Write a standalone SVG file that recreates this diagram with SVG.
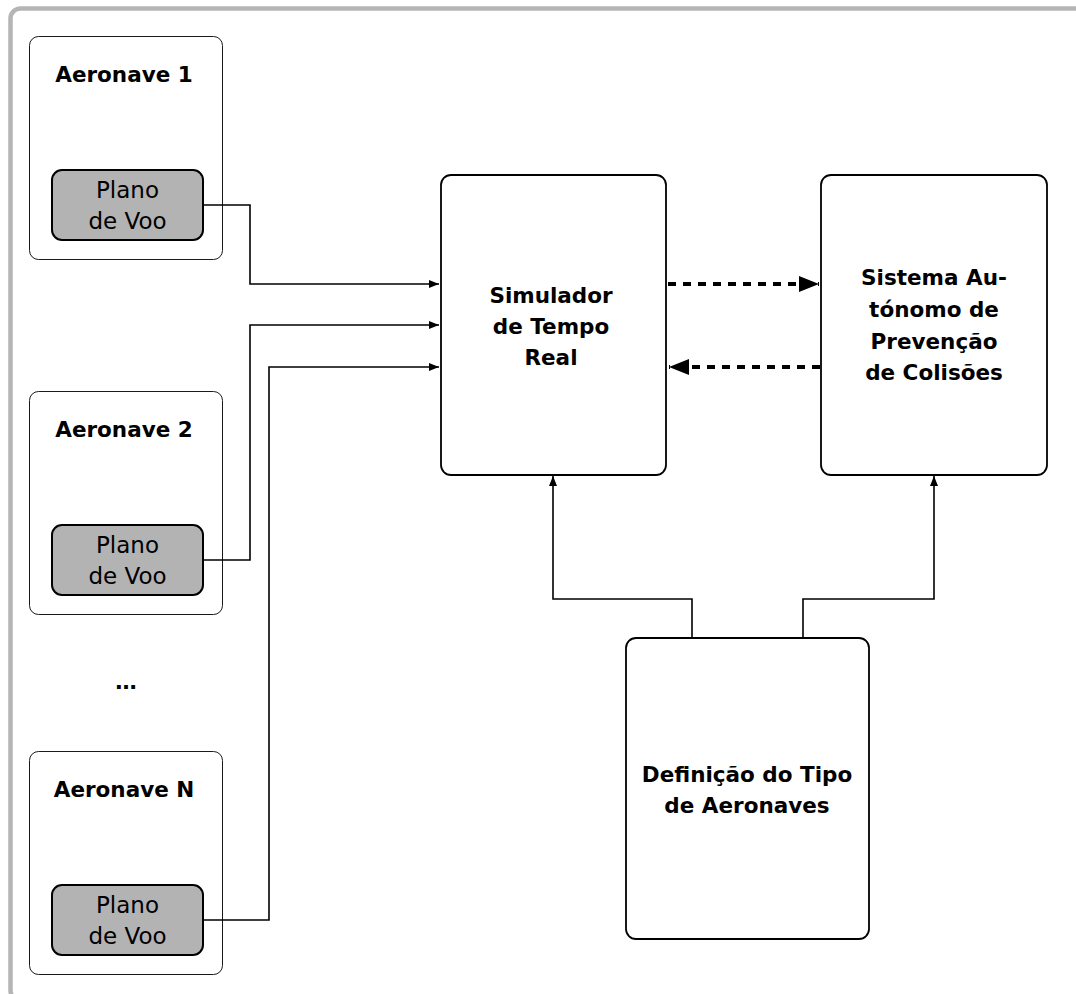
<svg xmlns="http://www.w3.org/2000/svg" width="1076" height="994" viewBox="0 0 1076 994">
  <style>
    .frame { fill: #ffffff; stroke: #b5b5b5; stroke-width: 4.5; }
    .group { fill: #ffffff; stroke: #1a1a1a; stroke-width: 1; }
    .plan { fill: #b3b3b3; stroke: #000000; stroke-width: 2; }
    .block { fill: #ffffff; stroke: #000000; stroke-width: 1.8; }
    .title { font-family: "DejaVu Sans", Verdana, sans-serif; font-weight: bold; font-size: 21.5px; fill: #000000; text-anchor: middle; }
    .label { font-family: "DejaVu Sans", Verdana, sans-serif; font-size: 23px; fill: #000000; text-anchor: middle; }
    .wire { fill: none; stroke: #000000; stroke-width: 1.6; }
    .dash { fill: none; stroke: #000000; stroke-width: 4; stroke-dasharray: 8 7; }
  </style>
  <defs>
    <marker id="tip" viewBox="0 0 10 8" refX="10" refY="4" markerWidth="10" markerHeight="8" markerUnits="userSpaceOnUse" orient="auto">
      <path d="M0,0 L10,4 L0,8 Z" fill="#000000"/>
    </marker>
    <marker id="bigtip" viewBox="0 0 20 16" refX="20" refY="8" markerWidth="20" markerHeight="16" markerUnits="userSpaceOnUse" orient="auto">
      <path d="M0,0 L20,8 L0,16 Z" fill="#000000"/>
    </marker>
  </defs>

  <rect x="0" y="0" width="1076" height="994" fill="#ffffff"/>
  <!-- outer frame; its right and bottom edges run past the canvas -->
  <rect class="frame" x="10.5" y="8.5" width="1090" height="992" rx="10"/>

  <g id="aeronave-1">
    <rect class="group" x="29.5" y="36.5" width="193" height="223" rx="9"/>
    <text class="title" x="124" y="82">Aeronave 1</text>
    <rect class="plan" x="52" y="170" width="151" height="70" rx="10"/>
    <text class="label" x="127.5" y="198">Plano</text>
    <text class="label" x="127.5" y="229">de Voo</text>
  </g>

  <g id="aeronave-2">
    <rect class="group" x="29.5" y="391.5" width="193" height="223" rx="9"/>
    <text class="title" x="124" y="437">Aeronave 2</text>
    <rect class="plan" x="52" y="525" width="151" height="70" rx="10"/>
    <text class="label" x="127.5" y="553">Plano</text>
    <text class="label" x="127.5" y="584">de Voo</text>
  </g>

  <g id="ellipsis">
    <text class="title" x="126" y="689">…</text>
  </g>

  <g id="aeronave-n">
    <rect class="group" x="29.5" y="751.5" width="193" height="223" rx="9"/>
    <text class="title" x="124" y="797">Aeronave N</text>
    <rect class="plan" x="52" y="885" width="151" height="70" rx="10"/>
    <text class="label" x="127.5" y="913">Plano</text>
    <text class="label" x="127.5" y="944">de Voo</text>
  </g>

  <g id="simulador">
    <rect class="block" x="441" y="175" width="225" height="300" rx="10"/>
    <text class="title" x="551" y="303">Simulador</text>
    <text class="title" x="551" y="334">de Tempo</text>
    <text class="title" x="551" y="365">Real</text>
  </g>

  <g id="sistema">
    <rect class="block" x="821" y="175" width="226" height="300" rx="10"/>
    <text class="title" x="934" y="285">Sistema Au-</text>
    <text class="title" x="934" y="317">tónomo de</text>
    <text class="title" x="934" y="349">Prevenção</text>
    <text class="title" x="934" y="380">de Colisões</text>
  </g>

  <g id="definicao">
    <rect class="block" x="626" y="638" width="243" height="301" rx="10"/>
    <text class="title" x="747" y="782">Definição do Tipo</text>
    <text class="title" x="747" y="813">de Aeronaves</text>
  </g>

  <g id="connectors">
    <path class="wire" d="M203,205 H250 V284 H439" marker-end="url(#tip)"/>
    <path class="wire" d="M203,560 H250 V325 H439" marker-end="url(#tip)"/>
    <path class="wire" d="M203,920 H269 V367 H439" marker-end="url(#tip)"/>
    <path class="dash" d="M668,284 H819" marker-end="url(#bigtip)"/>
    <path class="dash" d="M820,367 H669" marker-end="url(#bigtip)"/>
    <path class="wire" d="M692,638 V599 H553 V476" marker-end="url(#tip)"/>
    <path class="wire" d="M803,638 V599 H934 V476" marker-end="url(#tip)"/>
  </g>
</svg>
